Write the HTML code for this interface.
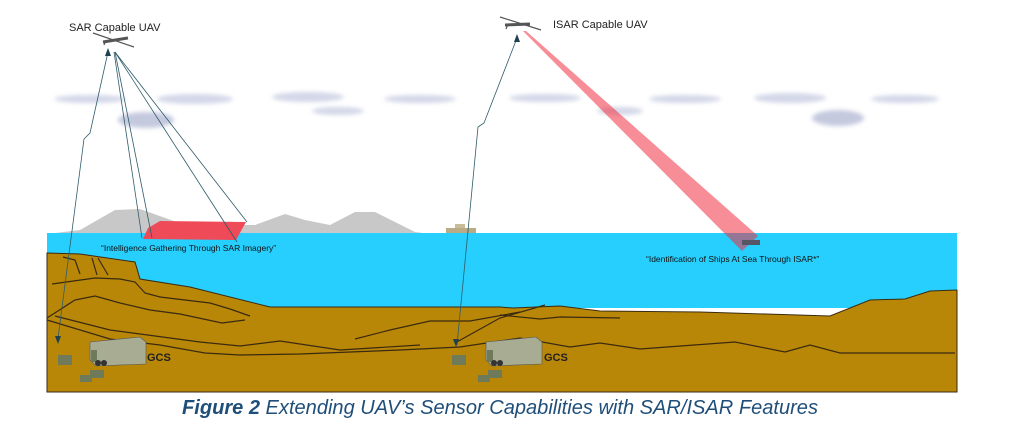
<!DOCTYPE html>
<html><head><meta charset="utf-8"><style>
html,body{margin:0;padding:0;background:#fff;width:1010px;height:427px;overflow:hidden}
svg{display:block}
</style></head><body>
<svg width="1010" height="427" viewBox="0 0 1010 427" xmlns="http://www.w3.org/2000/svg" font-family="Liberation Sans, sans-serif">
<defs>
<filter id="b" x="-20%" y="-50%" width="140%" height="200%"><feGaussianBlur stdDeviation="2"/></filter>
</defs>
<!-- clouds -->
<g filter="url(#b)" fill="#d3d7e8">
<ellipse cx="90" cy="99" rx="36" ry="4"/><ellipse cx="195" cy="99" rx="38" ry="5"/>
<ellipse cx="308" cy="97" rx="36" ry="5"/><ellipse cx="420" cy="99" rx="36" ry="4"/>
<ellipse cx="338" cy="111" rx="26" ry="4"/>
<ellipse cx="146" cy="120" rx="28" ry="8" fill="#c4c9de"/>
<ellipse cx="545" cy="98" rx="36" ry="4"/><ellipse cx="620" cy="111" rx="23" ry="4"/>
<ellipse cx="685" cy="99" rx="36" ry="4"/><ellipse cx="790" cy="98" rx="36" ry="5"/>
<ellipse cx="905" cy="99" rx="34" ry="4"/><ellipse cx="838" cy="118" rx="26" ry="8" fill="#c4c9de"/>
</g>
<!-- mountains -->
<path d="M47,234 L80,230 L115,210 L140,209 L185,225 L255,225 L285,214 L305,220 L330,225 L355,212 L375,212 L415,232 L430,234 Z" fill="#c8c8c8"/>
<!-- sea -->
<rect x="47" y="233" width="910" height="75" fill="#26cffd"/>
<!-- SAR footprint -->
<path d="M148,228 L160,221 L246,222 L236,240 L143,239 Z" fill="#ef4a58"/>
<!-- ship -->
<rect x="446" y="228" width="30" height="5" fill="#b8ab85"/>
<rect x="455" y="224" width="10" height="4" fill="#c9bd98"/>
<!-- ground -->
<path d="M47,253 L80,254 L135,262 L140,279 L190,287 L270,307 L500,307 L513,308 L560,306 L600,311 L700,312 L830,316 L870,300 L905,299 L930,291 L957,290 L957,392 L47,392 Z" fill="#b98708" stroke="#3a2a10" stroke-width="1"/>
<g fill="none" stroke="#3a2a10" stroke-width="1.2">
<path d="M52,284 L95,278 L120,279 L135,282 L145,293 L160,297 L210,303 L230,309 L250,316"/>
<path d="M47,318 L75,300 L95,296 L120,303 L150,310 L180,314 L222,323 L245,320"/>
<path d="M47,320 L110,339 L160,345 L205,353 L240,355 L300,354 L400,350 L460,347 L520,338 L570,347 L600,343 L640,349 L735,342 L785,352 L810,345 L840,353 L955,353"/>
<path d="M55,316 L110,330 L200,342 L240,346 L280,341 L340,350 L420,345"/>
<path d="M355,339 L390,330 L430,321 L470,321 L520,312"/>
<path d="M455,343 L500,318 L545,305"/>
<path d="M500,315 L540,319 L560,317 L620,318"/>
<path d="M63,257 L75,260 L80,274"/><path d="M92,258 L97,275"/><path d="M98,258 L108,275"/>
</g>
<!-- GCS vehicles -->
<g>
<polygon points="90,342 140,337 146,342 146,364 96,366 90,360" fill="#a7ac92" stroke="#555" stroke-width="0.6"/>
<rect x="91" y="350" width="6" height="12" fill="#6e7a5a"/>
<circle cx="98" cy="363" r="3" fill="#333"/><circle cx="104" cy="363" r="3" fill="#333"/>
<rect x="58" y="355" width="14" height="10" fill="#6e7a5a"/><rect x="90" y="370" width="14" height="8" fill="#6e7a5a"/><rect x="80" y="375" width="12" height="7" fill="#6e7a5a"/>
<polygon points="486,342 536,337 542,342 542,364 492,366 486,360" fill="#a7ac92" stroke="#555" stroke-width="0.6"/>
<rect x="487" y="350" width="6" height="12" fill="#6e7a5a"/>
<circle cx="494" cy="363" r="3" fill="#333"/><circle cx="500" cy="363" r="3" fill="#333"/>
<rect x="452" y="355" width="14" height="10" fill="#6e7a5a"/><rect x="488" y="370" width="14" height="8" fill="#6e7a5a"/><rect x="478" y="375" width="12" height="7" fill="#6e7a5a"/>
</g>
<text x="147" y="361" font-size="11" font-weight="bold" fill="#222">GCS</text>
<text x="544" y="361" font-size="11" font-weight="bold" fill="#222">GCS</text>
<!-- ISAR beam -->
<polygon points="523,31 526,31 758,236 742,251" fill="#f03040" fill-opacity="0.55"/>
<rect x="742" y="240" width="18" height="5" fill="#556"/>
<!-- SAR lines -->
<g stroke="#2f5a6a" stroke-width="0.8" fill="none">
<path d="M114,52 L142,238"/><path d="M115,52 L152,238"/><path d="M115,52 L237,242"/><path d="M115,52 L247,222"/>
<path d="M58,338 L84,139 L90,133 L108,52"/>
<path d="M457,345 L478,127 L484,123 L517,38"/>
</g>
<g fill="#1e4050">
<polygon points="58,344 55,336 61,336"/><polygon points="108,48 105,56 111,56"/>
<polygon points="456,347 453,339 459,339"/><polygon points="517,34 514,42 520,42"/>
</g>
<!-- UAVs -->
<g stroke="#555" stroke-width="1.2" fill="#777">
<path d="M93,33 L134,47"/><path d="M103,42 L128,38" stroke-width="3"/><path d="M106,40 L104,45"/>
<path d="M500,17 L541,30"/><path d="M505,25 L530,24" stroke-width="3"/><path d="M508,24 L506,29"/>
</g>
<!-- labels -->
<text x="69" y="31" font-size="11" fill="#222">SAR Capable UAV</text>
<text x="553" y="28" font-size="11" fill="#222">ISAR Capable UAV</text>
<text x="101" y="251" font-size="8.5" fill="#111">“Intelligence Gathering Through  SAR Imagery”</text>
<text x="646" y="262" font-size="8.5" fill="#111">“Identification of Ships At Sea Through ISAR*”</text>
<!-- caption -->
<text x="182" y="414" font-size="20" font-style="italic" fill="#1f4e79" textLength="636" lengthAdjust="spacingAndGlyphs"><tspan font-weight="bold">Figure 2</tspan> Extending UAV’s Sensor Capabilities with SAR/ISAR Features</text>
</svg>
</body></html>
